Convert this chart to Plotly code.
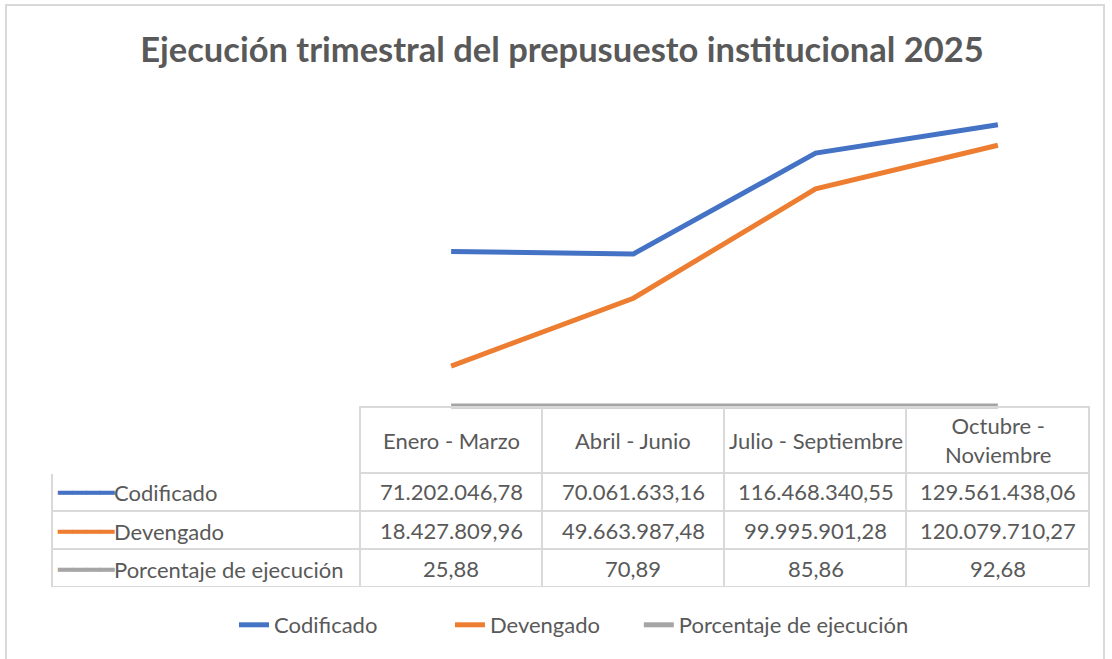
import plotly.graph_objects as go

# data
periodos = ["Enero - Marzo", "Abril - Junio", "Julio - Septiembre", "Octubre - Noviembre"]
periodos_tabla = ["Enero - Marzo", "Abril - Junio", "Julio - Septiembre", "Octubre -<br>Noviembre"]
codificado = [71202046.78, 70061633.16, 116468340.55, 129561438.06]
devengado = [18427809.96, 49663987.48, 99995901.28, 120079710.27]
porcentaje = [25.88, 70.89, 85.86, 92.68]
series = ["Codificado", "Devengado", "Porcentaje de ejecución"]
colores = ["#4472c4", "#ed7d31", "#a5a5a5"]

W, H = 1112, 659
FONT = "Lato"
GRIS = "#595959"
BORDE = "#d9d9d9"
TOP_TABLA, ALTO_CAB, ALTO_FILA = 407, 66, 38
# extra non-breaking spaces after each legend name, spreads the entries like Excel does
PAD_LEYENDA = [12, 6, 0]


def es_num(v):
    # 1.234.567,89 style
    s = f"{v:,.2f}"
    return s.replace(",", "X").replace(".", ",").replace("X", ".")


def py(px):
    return 1 - px / H


fig = go.Figure()

valores = [codificado, devengado, porcentaje]
for nombre, vals, col, pad in zip(series, valores, colores, PAD_LEYENDA):
    fig.add_trace(go.Scatter(
        x=periodos, y=vals, name=nombre + "\u00a0" * pad, mode="lines",
        line=dict(color=col, width=5), hoverinfo="skip",
    ))

# table trace only draws the grid, text goes in annotations so it sits centred in each cell
n_filas = len(series)
fig.add_trace(go.Table(
    domain=dict(x=[52 / W, 1089 / W],
                y=[py(TOP_TABLA + ALTO_CAB + ALTO_FILA * n_filas), py(TOP_TABLA)]),
    columnwidth=[308, 182, 182, 182, 183],
    header=dict(
        values=[""] * 5, height=ALTO_CAB,
        fill=dict(color="rgba(0,0,0,0)"),
        line=dict(color=["white"] + [BORDE] * 4, width=2),
    ),
    cells=dict(
        values=[[""] * n_filas] * 5, height=ALTO_FILA,
        fill=dict(color="rgba(0,0,0,0)"),
        line=dict(color=BORDE, width=2),
    ),
))

fnt = dict(family=FONT, size=22, color=GRIS)
for p, t in zip(periodos, periodos_tabla):
    fig.add_annotation(x=p, xref="x", y=py(TOP_TABLA + ALTO_CAB / 2), yref="paper",
                       text=t, showarrow=False, align="center", yanchor="middle", font=fnt)

for j, (nombre, vals, col) in enumerate(zip(series, valores, colores)):
    yc = py(TOP_TABLA + ALTO_CAB + ALTO_FILA * j + ALTO_FILA / 2)
    fig.add_annotation(x=55 / W, xref="paper", y=yc, yref="paper", xanchor="left",
                       yanchor="middle", showarrow=False, font=fnt,
                       text=f"<span style='color:{col};font-size:24px'>━━━━</span>{nombre}")
    for p, v in zip(periodos, vals):
        fig.add_annotation(x=p, xref="x", y=yc, yref="paper", text=es_num(v),
                           showarrow=False, yanchor="middle", font=fnt)

fig.update_layout(
    width=W, height=H,
    margin=dict(l=0, r=0, t=0, b=0),
    paper_bgcolor="white", plot_bgcolor="rgba(0,0,0,0)",
    title=dict(
        text="<b>Ejecución trimestral del prepusuesto institucional 2025</b>",
        x=562 / W, xanchor="center", y=py(50), yanchor="middle",
        font=dict(family=FONT, size=34.5, color=GRIS),
    ),
    xaxis=dict(domain=[360 / W, 1089 / W], type="category", range=[-0.5, 3.5],
               visible=False, fixedrange=True),
    yaxis=dict(domain=[py(410), py(102)], range=[-1.8e6, 140e6],
               visible=False, fixedrange=True),
    legend=dict(
        orientation="h", x=234 / W, xanchor="left", y=py(625), yanchor="middle",
        font=fnt,
    ),
    shapes=[dict(type="rect", xref="paper", yref="paper",
                 x0=6 / W, x1=1104 / W, y0=-0.05, y1=py(5),
                 line=dict(color=BORDE, width=2), layer="below")],
)

fig.write_html("out.html", config={"displayModeBar": False},
               post_script="document.body.style.margin='0';")
